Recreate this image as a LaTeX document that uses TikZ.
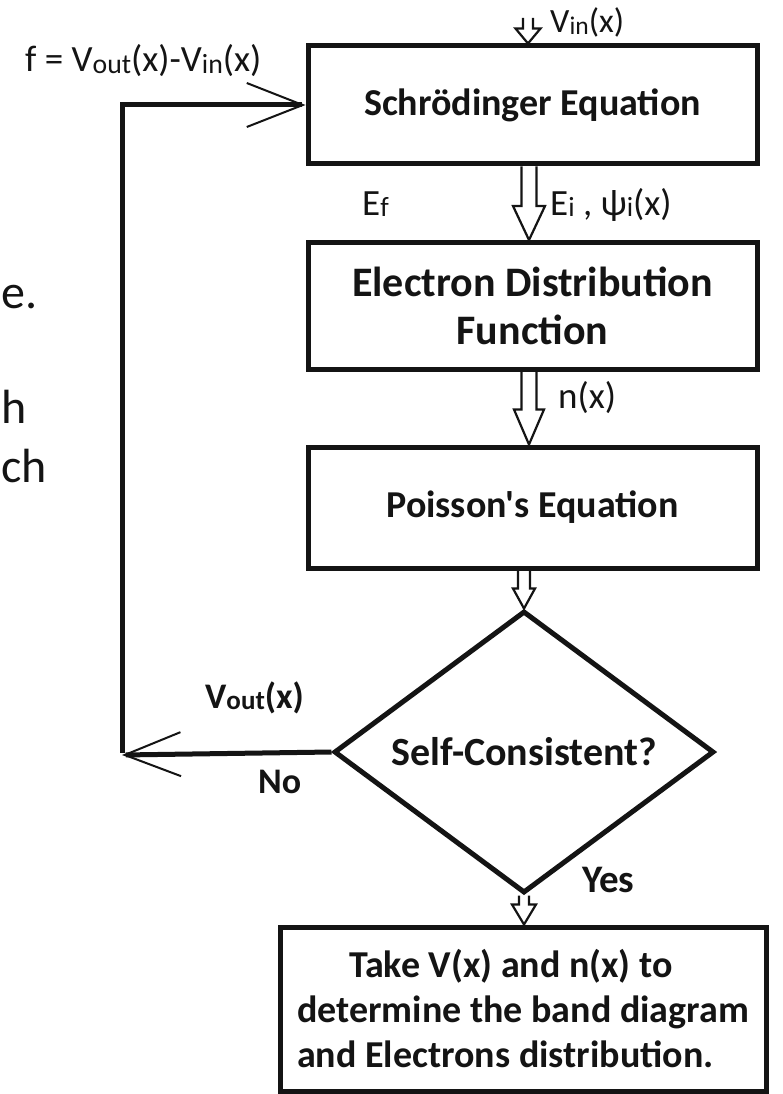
\documentclass[tikz,border=0pt]{standalone}
\usepackage{fontspec}
\setmainfont{Carlito}[Ligatures=TeXOff]
\usetikzlibrary{shapes.geometric,arrows.meta,calc}
\definecolor{ink}{HTML}{141414}
\newcommand\sbx[1]{\raisebox{-1.5pt}{\scalebox{0.75}{#1}}}
\newcommand\hollowarrow[5]{%
  \draw[hollow] let \p1=(#1), \p2=(#2) in
    (\x2-#3,\y1) -- (\x2-#3,\y2+#5) -- (\x2-#4,\y2+#5) -- (\x2,\y2)
    -- (\x2+#4,\y2+#5) -- (\x2+#3,\y2+#5) -- (\x2+#3,\y1);}
\tikzset{
  box/.style={draw=ink, line width=5pt, rectangle, inner sep=0pt, align=center,
    font=\fontsize{38}{48}\selectfont\bfseries, text=ink},
  decision/.style={draw=ink, line width=5pt, diamond, inner sep=0pt, aspect=1.35,
    font=\fontsize{40}{44}\selectfont\bfseries, text=ink},
  hollow/.style={draw=ink, line width=2.2pt, line join=miter},
  fb/.style={draw=ink, line width=5pt},
  barb/.style={-{Straight Barb[length=56pt, width=44pt, line width=2pt]}},
  lbl/.style={inner sep=0pt, text=ink, font=\fontsize{37}{42}\selectfont},
  blbl/.style={inner sep=0pt, text=ink, font=\fontsize{36}{42}\selectfont\bfseries},
  frag/.style={inner sep=0pt, text=ink, font=\fontsize{48}{56}\selectfont},
}
\begin{document}
\begin{tikzpicture}[x=1pt, y=-1pt]
\useasboundingbox (0,0) rectangle (782,1094);
\fill[white] (0,0) rectangle (782,1094);

% boxes
\node[box, minimum width=449, minimum height=118] (sch) at (532.5,105) {Schrödinger Equation};
\node[box, minimum width=449, minimum height=127, font=\fontsize{42}{48}\selectfont\bfseries] (elec) at (532.5,306) {Electron Distribution\\Function};
\node[box, minimum width=449, minimum height=121] (poi) at (532.5,507.5) {Poisson's Equation};
\node[decision, minimum width=380, minimum height=282] (dia) at (524,752) {Self-Consistent?};
\node[box, minimum width=486, minimum height=164, align=left,
      font=\fontsize{38}{45}\selectfont\bfseries] (fin) at (523,1009)
  {\hspace*{52pt}Take V(x) and n(x) to\\determine the band diagram\\and Electrons distribution.};

% coordinates
\coordinate (vintop) at (528,18);
\coordinate (spine) at (529,0);
\coordinate (corner) at (122,755);

% hollow arrows
\hollowarrow{vintop}{sch.north -| vintop}{5pt}{12.5pt}{15pt}
\hollowarrow{sch.south -| spine}{elec.north -| spine}{7.5pt}{16pt}{34pt}
\hollowarrow{elec.south -| spine}{poi.north -| spine}{7.5pt}{15pt}{35pt}
\hollowarrow{poi.south -| dia.north}{dia.north}{6pt}{11pt}{20pt}
\hollowarrow{dia.south}{fin.north -| dia.south}{5pt}{12pt}{20pt}

% feedback loop
\draw[fb, barb] (dia.west) -- (corner);
\draw[fb, barb] ([yshift=2.5pt]corner) |- (sch.west);

% labels
\node[lbl, anchor=base west] (flbl) at (25,72) {f = V\sbx{out}(x)-V\sbx{in}(x)};
\node[lbl, anchor=base west, font=\fontsize{34}{40}\selectfont] (vinlbl) at (550,33) {V\sbx{in}(x)};
\node[lbl, anchor=base west] (eflbl) at (362,215) {E\sbx{f}};
\node[lbl, anchor=base west] (eilbl) at (550,215) {E\sbx{i} , ψ\sbx{i}(x)};
\node[lbl, anchor=base west] (nlbl) at (558,408) {n(x)};
\node[blbl, anchor=base west] (voutlbl) at (205,708) {V\sbx{out}(x)};
\node[blbl, anchor=base west] (nolbl) at (258,793) {No};
\node[blbl, anchor=base west, font=\fontsize{39}{44}\selectfont\bfseries] (yeslbl) at (582,892) {Yes};

% fragments of slide text at left edge
\node[frag, anchor=base west] (fr1) at (1,308) {e.};
\node[frag, anchor=base west] (fr2) at (1,423) {h};
\node[frag, anchor=base west] (fr3) at (1,482) {ch};
\end{tikzpicture}
\end{document}
